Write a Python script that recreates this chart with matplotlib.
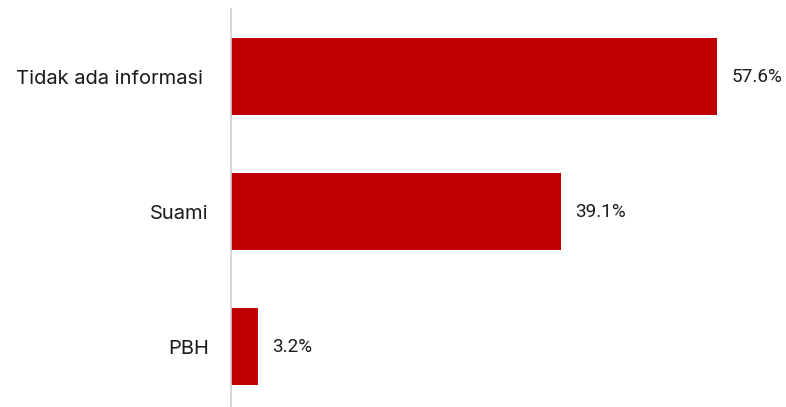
import matplotlib
matplotlib.use('Agg')
import matplotlib.pyplot as plt

categories = ['Tidak ada informasi ', 'Suami', 'PBH']
values = [57.6, 39.1, 3.2]
value_labels = ['57.6%', '39.1%', '3.2%']

bar_color = '#C00000'

fig = plt.figure(figsize=(7.86, 4.07), dpi=100)
ax = fig.add_axes([231 / 786, 0, 555 / 786, 398 / 407])

pos = range(len(categories))
ax.barh(pos, values, height=0.57, color=bar_color)

for p, v, lab in zip(pos, values, value_labels):
    ax.annotate(lab, xy=(v, p), xytext=(14, 0), textcoords='offset pixels',
                va='center', ha='left', fontsize=13.6, family='Roboto', color='#1a1a1a')

ax.set_xlim(0, 555 / 8.44)
ax.set_ylim(2.448, -0.5)
ax.set_yticks(list(pos))
ax.set_yticklabels(categories, fontsize=14.5, family='Inter', color='#1a1a1a')
ax.tick_params(axis='y', length=0, pad=16)
ax.set_xticks([])

for s in ['top', 'right', 'bottom']:
    ax.spines[s].set_visible(False)
ax.spines['left'].set_color('#d0d0d0')
ax.spines['left'].set_linewidth(1.2)

fig.savefig('out.png', dpi=100)
